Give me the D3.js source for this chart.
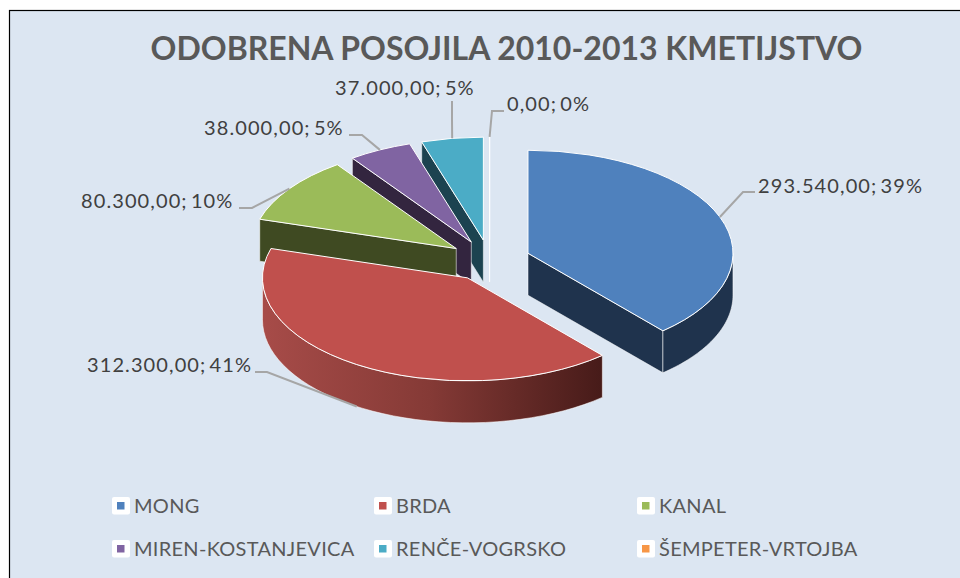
<!DOCTYPE html>
<html>
<head>
<meta charset="utf-8">
<style>
  body { margin: 0; background: #fff; }
  text { font-family: Lato, sans-serif; }
</style>
<script src="https://cdn.jsdelivr.net/npm/d3@7"></script>
</head>
<body>
<script>
var title = 'ODOBRENA POSOJILA 2010-2013 KMETIJSTVO'
var categories = ['MONG', 'BRDA', 'KANAL', 'MIREN-KOSTANJEVICA', 'RENČE-VOGRSKO', 'ŠEMPETER-VRTOJBA']
var values = [293540, 312300, 80300, 38000, 37000, 0]
var percents = [39, 41, 10, 5, 5, 0] // as printed on the chart
var topColors = ['#4f81bd', '#c0504d', '#9bbb59', '#8064a2', '#4bacc6', '#f79646']
var wallColors = ['#1f334d', 'url(#brdaWall)', '#3f4a22', '#33253f', '#1c4350', '#fff']

// label placement: elbow and end of the leader, then the text start and baseline
var labelLayout = [
  { elbow: [743, 192], end: [755, 192], x: 758, y: 193 },
  { elbow: [267, 372], end: [255, 372], x: 87, y: 372 },
  { elbow: [252, 208], end: [239, 208], x: 81, y: 208 },
  { elbow: [362, 135], end: [349, 135], x: 204, y: 135 },
  { elbow: [452, 120], end: [452, 101], x: 335, y: 95 },
  { elbow: [492, 111], end: [504, 111], x: 507, y: 111 }
]
var legendX = [112, 374, 637]
var legendY = [497, 540]

var width = 960
var height = 578

// pie geometry
var cx = 489.6
var cy = 260.5
var rx = 205
var ry = 103
var depth = 42
var explode = 0.2

var svg = d3.select('body').append('svg')
  .attr('width', width)
  .attr('height', height)
  .style('display', 'block')

svg.append('rect')
  .attr('x', 9.5)
  .attr('y', 10.5)
  .attr('width', width)
  .attr('height', height)
  .attr('fill', '#dce6f2')
  .attr('stroke', '#000')
  .attr('stroke-width', 1.2)

var grad = svg.append('defs').append('linearGradient')
  .attr('id', 'brdaWall')
  .attr('gradientUnits', 'userSpaceOnUse')
  .attr('x1', cx - rx - 27)
  .attr('x2', cx + 112)
  .attr('y1', 0)
  .attr('y2', 0)
grad.append('stop').attr('offset', 0).attr('stop-color', '#a84c49')
grad.append('stop').attr('offset', 0.5).attr('stop-color', '#853a36')
grad.append('stop').attr('offset', 1).attr('stop-color', '#471b19')

svg.append('text')
  .attr('x', 506.5)
  .attr('y', 60)
  .attr('text-anchor', 'middle')
  .attr('font-size', 32)
  .attr('font-weight', 700)
  .attr('fill', '#595959')
  .text(title)

var pie = d3.pie().sort(null).value(function (d) { return d })
var slices = pie(values)

slices.forEach(function (s, i) {
  s.index = i
  s.mid = (s.startAngle + s.endAngle) / 2
  s.apex = [cx + Math.sin(s.mid) * explode * rx, cy - Math.cos(s.mid) * explode * ry]
})

function rim (s, t) {
  return [s.apex[0] + Math.sin(t) * rx, s.apex[1] - Math.cos(t) * ry]
}

var line = d3.line()

function radialWall (s, t) {
  var p = rim(s, t)
  return line([s.apex, p, [p[0], p[1] + depth], [s.apex[0], s.apex[1] + depth]]) + 'Z'
}

function outerWall (s) {
  var a0 = Math.max(s.startAngle, Math.PI / 2)
  var a1 = Math.min(s.endAngle, Math.PI * 1.5)
  if (a1 <= a0) return null
  var upper = d3.range(0, 41).map(function (k) { return rim(s, a0 + (a1 - a0) * k / 40) })
  var lower = upper.slice().reverse().map(function (p) { return [p[0], p[1] + depth] })
  return line(upper.concat(lower)) + 'Z'
}

var arc = d3.arc().innerRadius(0).outerRadius(rx)

// back to front: last category sits behind, MONG in front
var order = slices.slice().reverse()

var g = svg.selectAll('g.slice')
  .data(order)
  .enter().append('g')
  .attr('class', 'slice')

g.each(function (s) {
  var sel = d3.select(this)
  var fill = wallColors[s.index]
  var walls = []
  if (s.value === 0 || Math.sin(s.startAngle) < -1e-9) walls.push(radialWall(s, s.startAngle))
  if (Math.sin(s.endAngle) > 1e-9) walls.push(radialWall(s, s.endAngle))
  var outer = outerWall(s)
  if (outer) walls.push(outer)
  walls.forEach(function (w) {
    sel.append('path')
      .attr('d', w)
      .attr('fill', fill)
      .attr('stroke', '#fff')
      .attr('stroke-opacity', s.value === 0 ? 0.85 : 0.55)
      .attr('stroke-width', 1)
  })
  sel.append('path')
    .attr('d', arc(s))
    .attr('transform', 'translate(' + s.apex + ') scale(1,' + ry / rx + ')')
    .attr('fill', topColors[s.index])
    .attr('stroke', '#fff')
    .attr('stroke-width', 1)
    .attr('vector-effect', 'non-scaling-stroke')
})

// leaders start on the rim at the middle of each slice
var fmt = d3.formatLocale({ decimal: ',', thousands: '.', grouping: [3], currency: ['', ''] }).format(',.2f')

slices.forEach(function (s, i) {
  var a = rim(s, s.mid)
  if (Math.cos(s.mid) < 0) a = [a[0], a[1] + depth]
  var l = labelLayout[i]
  svg.append('path')
    .attr('d', line([a, l.elbow, l.end]))
    .attr('fill', 'none')
    .attr('stroke', '#a6a6a6')
    .attr('stroke-width', 2)
  svg.append('text')
    .attr('x', l.x)
    .attr('y', l.y)
    .attr('font-size', 20)
    .attr('letter-spacing', 1.1)
    .attr('word-spacing', -3)
    .attr('fill', '#404040')
    .text(fmt(values[i]) + '; ' + percents[i] + '%')
})

var legend = svg.selectAll('g.legend')
  .data(categories)
  .enter().append('g')
  .attr('class', 'legend')
  .attr('transform', function (d, i) {
    return 'translate(' + legendX[i % 3] + ',' + legendY[Math.floor(i / 3)] + ')'
  })

legend.append('rect')
  .attr('width', 18)
  .attr('height', 17.5)
  .attr('rx', 2)
  .attr('fill', '#fff')

legend.append('rect')
  .attr('x', 5)
  .attr('y', 5)
  .attr('width', 7.5)
  .attr('height', 7.5)
  .attr('fill', function (d, i) { return topColors[i] })

legend.append('text')
  .attr('x', 22)
  .attr('y', 15.5)
  .attr('font-size', 20)
  .attr('letter-spacing', 0.28)
  .attr('fill', '#595959')
  .text(function (d) { return d })
</script>
</body>
</html>
